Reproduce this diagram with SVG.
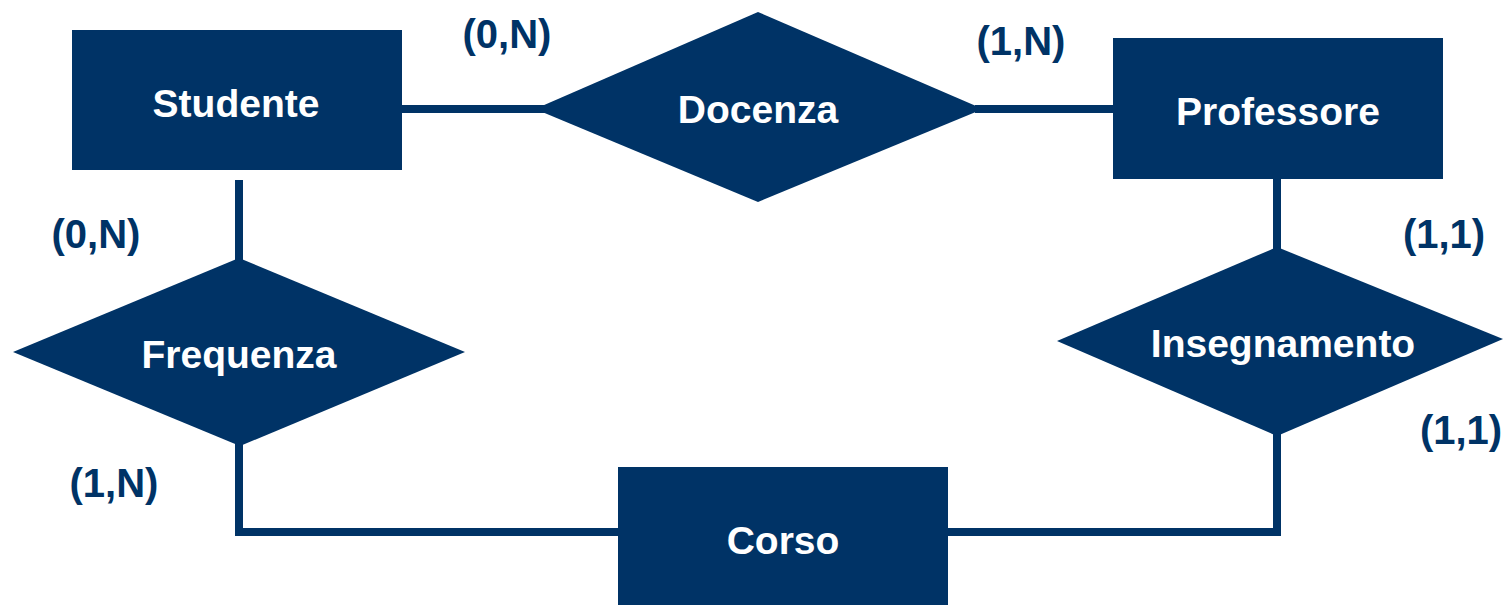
<svg xmlns="http://www.w3.org/2000/svg" width="1503" height="605" viewBox="0 0 1503 605">
  <style>
    .shape { fill: #003366; }
    .link { fill: none; stroke: #003366; stroke-width: 8; stroke-linecap: butt; stroke-linejoin: miter; }
    .name { font-family: "Liberation Sans", Arial, sans-serif; font-weight: bold; font-size: 39px; fill: #ffffff; text-anchor: middle; }
    .card { font-family: "Liberation Sans", Arial, sans-serif; font-weight: bold; font-size: 40px; fill: #003366; text-anchor: middle; }
  </style>

  <!-- connectors -->
  <g id="connectors">
    <path class="link" d="M402,109 H545"/>
    <path class="link" d="M975,109 H1113"/>
    <path class="link" d="M239,180 V265"/>
    <path class="link" d="M239,440 V532 H618"/>
    <path class="link" d="M1277,179 V252"/>
    <path class="link" d="M1277,430 V532 H948"/>
  </g>

  <!-- entities -->
  <g id="studente">
    <rect class="shape" x="72" y="30" width="330" height="140"/>
    <text class="name" x="236" y="117">Studente</text>
  </g>
  <g id="professore">
    <rect class="shape" x="1113" y="38" width="330" height="141"/>
    <text class="name" x="1278" y="125">Professore</text>
  </g>
  <g id="corso">
    <rect class="shape" x="618" y="467" width="330" height="138"/>
    <text class="name" x="783" y="554">Corso</text>
  </g>

  <!-- relationships -->
  <g id="docenza">
    <polygon class="shape" points="535,109 758,12 983,109 758,202"/>
    <text class="name" x="758" y="123">Docenza</text>
  </g>
  <g id="frequenza">
    <polygon class="shape" points="13,352 239,258 465,352 240,446"/>
    <text class="name" x="239" y="368">Frequenza</text>
  </g>
  <g id="insegnamento">
    <polygon class="shape" points="1057,341 1277,247 1503,339 1277,436"/>
    <text class="name" x="1283" y="357">Insegnamento</text>
  </g>

  <!-- cardinalities -->
  <g id="cardinalities">
    <text class="card" x="507" y="48">(0,N)</text>
    <text class="card" x="1021" y="55">(1,N)</text>
    <text class="card" x="96" y="248">(0,N)</text>
    <text class="card" x="114" y="497">(1,N)</text>
    <text class="card" x="1444" y="248">(1,1)</text>
    <text class="card" x="1461" y="444">(1,1)</text>
  </g>
</svg>
